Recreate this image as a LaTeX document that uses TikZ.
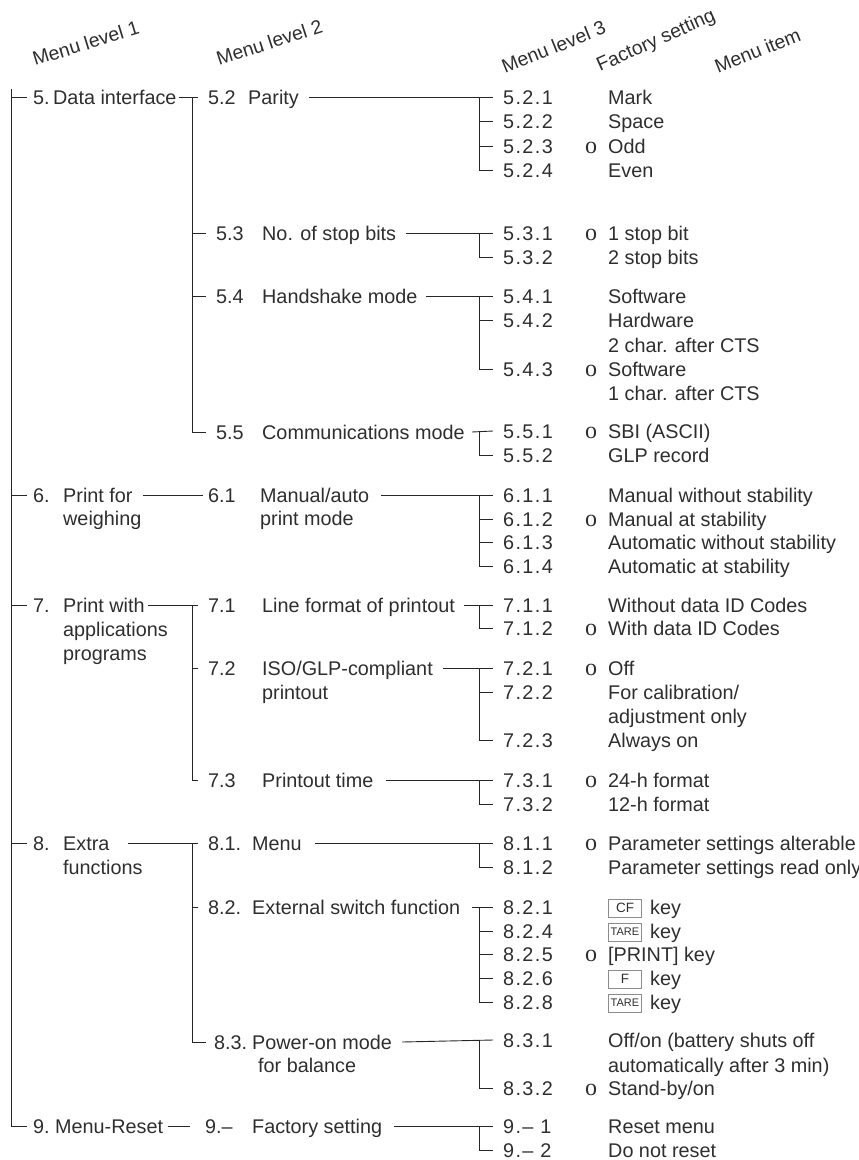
\documentclass[tikz,border=0pt]{standalone}
\usepackage{fontspec}
\setmainfont{Liberation Sans}
\newfontfamily\markfont{Liberation Serif}
\newfontfamily\numfont{Liberation Sans}[LetterSpace=7]
\begin{document}
\begin{tikzpicture}[x=1pt,y=-1pt,
  every node/.style={inner sep=0pt, text=black!82},
  txt/.style={anchor=west, text height=14.2pt, text depth=0pt, font=\fontsize{19.8}{24}\selectfont},
  num/.style={txt, font=\numfont\fontsize{19.8}{24}\selectfont},
  hdr/.style={anchor=base west, inner sep=0pt, font=\fontsize{19.4}{24}\selectfont},
  fmark/.style={anchor=center, text height=14.2pt, text depth=0pt, font=\markfont\fontsize{24}{24}\selectfont},
  keybox/.style={anchor=west, draw=black!45, line width=1pt, minimum width=33pt, minimum height=18pt, font=\fontsize{13.5}{14}\selectfont},
  tarebox/.style={keybox, font=\fontsize{11}{11}\selectfont},
  ln/.style={draw=black!85, line width=0.9pt}
]
\useasboundingbox (0,0) rectangle (859,1160);

% headers
\node[hdr, rotate=17] (h1) at (35,66) {Menu level 1};
\node[hdr, rotate=18] (h2) at (219,66) {Menu level 2};
\node[hdr, rotate=22] (h3) at (505,74) {Menu level 3};
\node[hdr, rotate=24] (h4) at (600,72) {Factory setting};
\node[hdr, rotate=22] (h5) at (718,74) {Menu item};

% level 1
\node[txt] (n5) at (33,97) {5.};
\node[txt] (l5) at (53,97) {Data interface};
\node[txt] (n6) at (33,495) {6.};
\node[txt] (l6) at (63,495) {Print for};
\node[txt] (l6b) at (63,518) {weighing};
\node[txt] (n7) at (33,605) {7.};
\node[txt] (l7) at (63,605) {Print with};
\node[txt] (l7b) at (63,629) {applications};
\node[txt] (l7c) at (63,653) {programs};
\node[txt] (n8) at (33,843) {8.};
\node[txt] (l8) at (63,843) {Extra};
\node[txt] (l8b) at (63,867) {functions};
\node[txt] (n9) at (33,1126) {9.};
\node[txt] (l9) at (55,1126) {Menu-Reset};

% level 2
\node[txt] (n52) at (208,97) {5.2};
\node[txt] (l52) at (248,97) {Parity};
\node[txt] (n53) at (216,233) {5.3};
\node[txt] (l53) at (262,233) {No. of stop bits};
\node[txt] (n54) at (216,296) {5.4};
\node[txt] (l54) at (262,296) {Handshake mode};
\node[txt] (n55) at (216,432) {5.5};
\node[txt] (l55) at (262,432) {Communications mode};
\node[txt] (n61) at (208,495) {6.1};
\node[txt] (l61) at (260,495) {Manual/auto};
\node[txt] (l61b) at (260,518) {print mode};
\node[txt] (n71) at (208,605) {7.1};
\node[txt] (l71) at (262,605) {Line format of printout};
\node[txt] (n72) at (208,668) {7.2};
\node[txt] (l72) at (262,668) {ISO/GLP-compliant};
\node[txt] (l72b) at (262,692) {printout};
\node[txt] (n73) at (208,780) {7.3};
\node[txt] (l73) at (262,780) {Printout time};
\node[txt] (n81) at (208,843) {8.1.};
\node[txt] (l81) at (252,843) {Menu};
\node[txt] (n82) at (208,907) {8.2.};
\node[txt] (l82) at (252,907) {External switch function};
\node[txt] (n83) at (214,1042) {8.3.};
\node[txt] (l83) at (252,1042) {Power-on mode};
\node[txt] (l83b) at (258,1065) {for balance};
\node[txt] (n9x) at (205,1126) {9.–};
\node[txt] (l9x) at (252,1126) {Factory setting};

% level 3 numbers
\node[num] (c521) at (503,97) {5.2.1};
\node[num] (c522) at (503,121) {5.2.2};
\node[num] (c523) at (503,146) {5.2.3};
\node[num] (c524) at (503,170) {5.2.4};
\node[num] (c531) at (503,233) {5.3.1};
\node[num] (c532) at (503,257) {5.3.2};
\node[num] (c541) at (503,296) {5.4.1};
\node[num] (c542) at (503,320) {5.4.2};
\node[num] (c543) at (503,369) {5.4.3};
\node[num] (c551) at (503,431) {5.5.1};
\node[num] (c552) at (503,455) {5.5.2};
\node[num] (c611) at (503,495) {6.1.1};
\node[num] (c612) at (503,519) {6.1.2};
\node[num] (c613) at (503,542) {6.1.3};
\node[num] (c614) at (503,566) {6.1.4};
\node[num] (c711) at (503,605) {7.1.1};
\node[num] (c712) at (503,628) {7.1.2};
\node[num] (c721) at (503,668) {7.2.1};
\node[num] (c722) at (503,692) {7.2.2};
\node[num] (c723) at (503,740) {7.2.3};
\node[num] (c731) at (503,780) {7.3.1};
\node[num] (c732) at (503,804) {7.3.2};
\node[num] (c811) at (503,843) {8.1.1};
\node[num] (c812) at (503,867) {8.1.2};
\node[num] (c821) at (503,907) {8.2.1};
\node[num] (c824) at (503,931) {8.2.4};
\node[num] (c825) at (503,954) {8.2.5};
\node[num] (c826) at (503,978) {8.2.6};
\node[num] (c828) at (503,1002) {8.2.8};
\node[num] (c831) at (503,1040) {8.3.1};
\node[num] (c832) at (503,1088) {8.3.2};
\node[num] (c91) at (503,1126) {9.– 1};
\node[num] (c92) at (503,1150) {9.– 2};

% factory marks
\foreach \nm/\yy in {f523/146, f531/233, f543/369, f551/431, f612/519, f712/628, f721/668, f731/780, f811/843, f825/954, f832/1088}
  \node[fmark] (\nm) at (591,\yy) {o};

% menu items
\node[txt] (i521) at (608,97) {Mark};
\node[txt] (i522) at (608,121) {Space};
\node[txt] (i523) at (608,146) {Odd};
\node[txt] (i524) at (608,170) {Even};
\node[txt] (i531) at (608,233) {1 stop bit};
\node[txt] (i532) at (608,257) {2 stop bits};
\node[txt] (i541) at (608,296) {Software};
\node[txt] (i542) at (608,320) {Hardware};
\node[txt] (i542b) at (608,345) {2 char. after CTS};
\node[txt] (i543) at (608,369) {Software};
\node[txt] (i543b) at (608,393) {1 char. after CTS};
\node[txt] (i551) at (608,431) {SBI (ASCII)};
\node[txt] (i552) at (608,455) {GLP record};
\node[txt] (i611) at (608,495) {Manual without stability};
\node[txt] (i612) at (608,519) {Manual at stability};
\node[txt] (i613) at (608,542) {Automatic without stability};
\node[txt] (i614) at (608,566) {Automatic at stability};
\node[txt] (i711) at (608,605) {Without data ID Codes};
\node[txt] (i712) at (608,628) {With data ID Codes};
\node[txt] (i721) at (608,668) {Off};
\node[txt] (i722) at (608,692) {For calibration/};
\node[txt] (i722b) at (608,716) {adjustment only};
\node[txt] (i723) at (608,740) {Always on};
\node[txt] (i731) at (608,780) {24-h format};
\node[txt] (i732) at (608,804) {12-h format};
\node[txt] (i811) at (608,843) {Parameter settings alterable};
\node[txt] (i812) at (608,867) {Parameter settings read only};
\node[keybox] (k821) at (608,908) {CF};
\node[txt] (i821) at (650,907) {key};
\node[tarebox] (k824) at (608,932) {TARE};
\node[txt] (i824) at (650,931) {key};
\node[txt] (i825) at (608,954) {[PRINT] key};
\node[keybox] (k826) at (608,979) {F};
\node[txt] (i826) at (650,978) {key};
\node[tarebox] (k828) at (608,1003) {TARE};
\node[txt] (i828) at (650,1002) {key};
\node[txt] (i831) at (608,1040) {Off/on (battery shuts off};
\node[txt] (i831b) at (608,1065) {automatically after 3 min)};
\node[txt] (i832) at (608,1088) {Stand-by/on};
\node[txt] (i91) at (608,1126) {Reset menu};
\node[txt] (i92) at (608,1150) {Do not reset};

% ---------- connectors ----------
\coordinate (v1) at (11,89);
\coordinate (v2) at (192,97);
\draw[ln] (v1) |- ([xshift=-6]n9.west);
\foreach \n in {n5,n6,n7,n8}
  \draw[ln] (v1 |- \n.west) -- ([xshift=-6]\n.west);

% level1 -> level2
\draw[ln] ([xshift=2]l5.east) -- ([xshift=-10]n52.west);
\draw[ln] (v2 |- n52.west) |- ([xshift=-10]n55.west);
\draw[ln] (v2 |- n53.west) -- ([xshift=-10]n53.west);
\draw[ln] (v2 |- n54.west) -- ([xshift=-10]n54.west);
\draw[ln] ([xshift=10]l6.east) -- ([xshift=-5]n61.west);
\draw[ln] ([xshift=3]l7.east) -- ([xshift=-10]n71.west);
\draw[ln] (v2 |- n71.west) |- ([xshift=-10]n73.west);
\draw[ln] (v2 |- n72.west) -- ([xshift=-10]n72.west);
\draw[ln] ([xshift=18]l8.east) -- ([xshift=-10]n81.west);
\draw[ln] (v2 |- n81.west) |- ([xshift=-8]n83.west);
\draw[ln] (v2 |- n82.west) -- ([xshift=-10]n82.west);
\draw[ln] ([xshift=5]l9.east) -- ([xshift=-15]n9x.west);

% level2 -> level3
\draw[ln] ([xshift=10]l52.east) -- ([xshift=-10]c521.west);
\draw[ln] ([xshift=-24]c521.west) |- ([xshift=-10]c524.west);
\foreach \c in {c522,c523} \draw[ln] ([xshift=-24]\c.west) -- ([xshift=-10]\c.west);

\draw[ln] ([xshift=10]l53.east) -- ([xshift=-10]c531.west);
\draw[ln] ([xshift=-24]c531.west) |- ([xshift=-10]c532.west);

\draw[ln] ([xshift=8]l54.east) -- ([xshift=-10]c541.west);
\draw[ln] ([xshift=-24]c541.west) |- ([xshift=-10]c543.west);
\draw[ln] ([xshift=-24]c542.west) -- ([xshift=-10]c542.west);

\draw[ln] ([xshift=7]l55.east) -- ([xshift=-10]c551.west);
\draw[ln] ([xshift=-24]c551.west) |- ([xshift=-10]c552.west);

\draw[ln] ([xshift=12]l61.east) -- ([xshift=-10]c611.west);
\draw[ln] ([xshift=-24]c611.west) |- ([xshift=-10]c614.west);
\foreach \c in {c612,c613} \draw[ln] ([xshift=-24]\c.west) -- ([xshift=-10]\c.west);

\draw[ln] ([xshift=9]l71.east) -- ([xshift=-10]c711.west);
\draw[ln] ([xshift=-24]c711.west) |- ([xshift=-10]c712.west);

\draw[ln] ([xshift=10]l72.east) -- ([xshift=-10]c721.west);
\draw[ln] ([xshift=-24]c721.west) |- ([xshift=-10]c723.west);
\draw[ln] ([xshift=-24]c722.west) -- ([xshift=-10]c722.west);

\draw[ln] ([xshift=12]l73.east) -- ([xshift=-10]c731.west);
\draw[ln] ([xshift=-24]c731.west) |- ([xshift=-10]c732.west);

\draw[ln] ([xshift=13]l81.east) -- ([xshift=-10]c811.west);
\draw[ln] ([xshift=-24]c811.west) |- ([xshift=-10]c812.west);

\draw[ln] ([xshift=12]l82.east) -- ([xshift=-10]c821.west);
\draw[ln] ([xshift=-24]c821.west) |- ([xshift=-10]c828.west);
\foreach \c in {c824,c825,c826} \draw[ln] ([xshift=-24]\c.west) -- ([xshift=-10]\c.west);

\draw[ln] ([xshift=10]l83.east) -- ([xshift=-10]c831.west);
\draw[ln] ([xshift=-24]c831.west) |- ([xshift=-10]c832.west);

\draw[ln] ([xshift=12]l9x.east) -- ([xshift=-10]c91.west);
\draw[ln] ([xshift=-24]c91.west) |- ([xshift=-10]c92.west);
\end{tikzpicture}
\end{document}
